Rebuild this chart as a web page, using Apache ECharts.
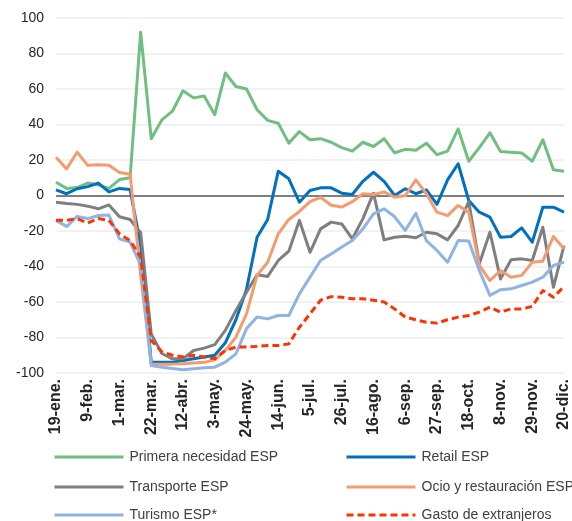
<!DOCTYPE html>
<html>
<head>
<meta charset="utf-8">
<script src="https://cdn.jsdelivr.net/npm/echarts@6/dist/echarts.min.js"></script>
<style>
html,body{margin:0;padding:0;background:#fff;}
#chart{width:572px;height:521px;}
</style>
</head>
<body>
<div id="chart"></div>
<script>
const categories = ["19-ene.","26-ene.","2-feb.","9-feb.","16-feb.","23-feb.","1-mar.","8-mar.","15-mar.","22-mar.","29-mar.","5-abr.","12-abr.","19-abr.","26-abr.","3-may.","10-may.","17-may.","24-may.","31-may.","7-jun.","14-jun.","21-jun.","28-jun.","5-jul.","12-jul.","19-jul.","26-jul.","2-ago.","9-ago.","16-ago.","23-ago.","30-ago.","6-sep.","13-sep.","20-sep.","27-sep.","4-oct.","11-oct.","18-oct.","25-oct.","1-nov.","8-nov.","15-nov.","22-nov.","29-nov.","6-dic.","13-dic.","20-dic."];

const primeraNecesidad = [7.5,4,4.5,7,6,4,9,10,92,32,42.6,47.5,59,55,56,45.5,69,61.4,60,48.3,42.3,40.7,29.5,36,31.4,32,30,27,25,30,27.6,32,24,26,25.5,29.5,23,25,37.5,19.3,27,35.3,24.8,24.4,24,19.3,31.4,14.5,13.7];
const retail = [3.2,1,3.8,5,7,2,4,3.4,-28,-94,-94,-94,-93,-92,-91,-90,-83,-70,-53,-23.5,-13.5,13.7,9.4,-3.8,2.8,4.3,4.3,1.3,0.6,8,13.1,8,0,3.8,1,3.2,-5,8.8,17.9,-2.8,-9.4,-12.2,-23.5,-23.1,-18.2,-26.3,-6.6,-6.6,-9.4];
const transporte = [-3.8,-4.5,-5,-6,-7.5,-5.3,-12,-13.5,-21,-78,-89,-92,-92,-87.3,-86,-84,-76,-64.8,-54.5,-44.7,-45.6,-36.6,-31.4,-14,-32,-18.8,-15,-16,-24.4,-13,1.3,-25,-23.5,-23,-23.8,-20.7,-21.6,-25,-16.9,-3.5,-38.5,-20.7,-47,-36.2,-35.7,-36.6,-17.9,-51.7,-28.2];
const ocio = [21.6,15,24.4,17,17.3,17,13,12,-45,-95,-95,-95,-94.8,-94.4,-94,-92.6,-87.3,-79.8,-66.7,-45,-37.6,-21.6,-13.5,-9,-3.5,-1,-5.5,-6.5,-3.5,1,0.5,2,-1,0,8.8,1,-9.4,-11.3,-5.6,-9.4,-39.4,-47.9,-42.3,-46,-45,-37.6,-37,-23.1,-30];
const turismo = [-14,-17.5,-11.8,-13,-11.3,-11,-24.4,-26.3,-39,-95.8,-96.7,-97.5,-98.2,-97.6,-97,-96.7,-93.9,-89.2,-75,-68.5,-69.5,-67.6,-67.6,-55.4,-46,-36.6,-32.9,-29,-25.4,-18.8,-10.3,-7.5,-12,-19.7,-10,-25.4,-31,-37.6,-25.4,-25.7,-42.3,-56.3,-53.1,-52.6,-50.7,-48.8,-46,-39.4,-37.6];
const gastoExtranjeros = [-14,-14,-13,-15.5,-13,-14,-21.6,-25.4,-34.7,-81.7,-88,-90,-91,-90,-91,-92,-87.3,-85.4,-85.4,-85,-84.5,-84.5,-83.6,-74.2,-66.7,-59,-57,-57.3,-58.2,-58.2,-59,-60,-63.9,-68.5,-70,-71.4,-71.9,-70,-68.5,-67.6,-65.7,-62.9,-65.7,-63.9,-63.9,-62.5,-53.5,-57.3,-51.3];

const yTicks = {min: -100, max: 100, interval: 20};

const seriesNames = ["Primera necesidad ESP","Retail ESP","Transporte ESP","Ocio y restauración ESP","Turismo ESP*","Gasto de extranjeros"];
const seriesData = [primeraNecesidad, retail, transporte, ocio, turismo, gastoExtranjeros];
const seriesColors = ["#70bf80","#0070c0","#7f7f7f","#f59b6e","#8db4e2","#ff3300"];
const seriesDash = ["solid","solid","solid","solid","solid",[7,4]];

const chart = echarts.init(document.getElementById('chart'), null, {renderer:'canvas'});
const font = "'Liberation Sans', 'DejaVu Sans', sans-serif";

const series = seriesNames.map((name, i) => ({
  name: name,
  type: 'line',
  data: seriesData[i],
  symbol: 'none',
  smooth: false,
  color: seriesColors[i],
  lineStyle: {color: seriesColors[i], width: 3, type: seriesDash[i], cap: 'butt', join: 'round'},
  z: 2 + i,
  animation: false,
  markLine: i === 0 ? {
    silent: true, symbol: 'none', label: {show: false},
    lineStyle: {color: '#595959', width: 1.5, type: 'solid'},
    data: [{yAxis: 0}], z: 1, animation: false
  } : undefined
}));

// legend slots: column x and row y (centre)
const legendCols = [53, 345];
const legendRows = [457, 487, 515];
const legendOrder = [[0,0],[1,0],[0,1],[1,1],[0,2],[1,2]];
const legends = seriesNames.map((name, i) => ({
  data: [name],
  orient: 'horizontal',
  left: legendCols[legendOrder[i][0]],
  top: legendRows[legendOrder[i][1]] - 7,
  padding: 0,
  itemWidth: 69, itemHeight: 14,
  itemStyle: {opacity: 0},
  lineStyle: {width: 3},
  textStyle: {color: '#404040', fontSize: 14, fontFamily: font, padding: [0,0,0,1]}
}));

chart.setOption({
  animation: false,
  backgroundColor: '#fff',
  grid: {left: 56, right: 3, top: 18, bottom: 148, containLabel: false},
  xAxis: {
    type: 'category',
    data: categories,
    boundaryGap: false,
    axisLine: {show: false},
    axisTick: {show: false},
    splitLine: {show: false},
    axisLabel: {
      interval: 2, rotate: 90, margin: 6,
      color: '#262626', fontSize: 16, fontWeight: 'bold', fontFamily: font
    }
  },
  yAxis: {
    type: 'value',
    min: yTicks.min, max: yTicks.max, interval: yTicks.interval,
    axisLine: {show: false},
    axisTick: {show: false},
    axisLabel: {color: '#262626', fontSize: 14, fontFamily: font, margin: 12},
    splitLine: {show: true, lineStyle: {color: '#ececec', width: 1.5}}
  },
  legend: legends,
  series: series
});
</script>
</body>
</html>
